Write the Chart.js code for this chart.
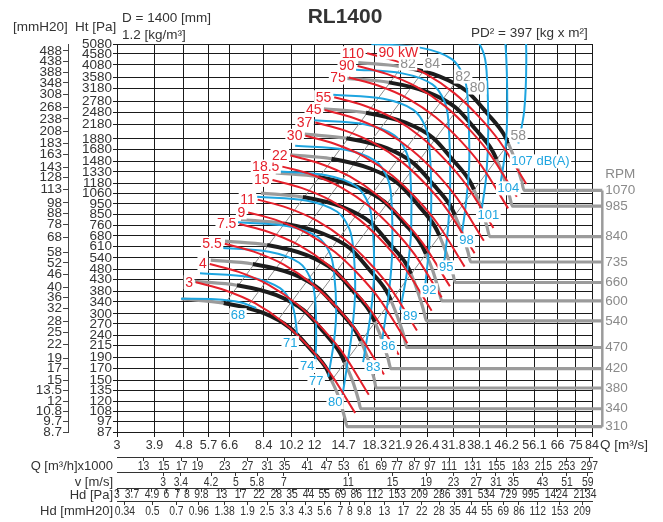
<!DOCTYPE html>
<html><head><meta charset="utf-8">
<script src="https://cdn.jsdelivr.net/npm/chart.js@4.4.1/dist/chart.umd.min.js"></script>
<style>html,body{margin:0;padding:0;background:#fff;}canvas{display:block;}</style>
</head><body>
<canvas id="c" width="663" height="522"></canvas>
<script>
// ---------- axis ticks ----------
const qTicks = [3,3.9,4.8,5.7,6.6,8.4,10.2,12,14.7,18.3,21.9,26.4,31.8,38.1,46.2,56.1,66,75,84];
const paTicks = [5080,4580,4080,3580,3180,2780,2480,2180,1880,1680,1480,1330,1180,1060,950,850,760,680,610,540,480,430,380,340,300,270,240,215,190,170,150,135,120,108,97,87];
const mmTicks = [488,438,388,348,308,268,238,208,183,163,143,128,113,98,88,78,68,58,52,46,40,36,32,28,25,22,19,17,15,13.5,12,10.8,9.7,8.7];
const qhTicks = [13,15,17,19,23,27,31,35,41,47,53,61,69,77,87,97,111,131,155,183,215,253,297];
const vTicks = [3,3.4,4.2,5,5.8,7,11,15,19,23,27,31,35,43,51,59];
const hdPaTicks = [3,3.7,4.9,6,7,8,9.8,13,17,22,28,35,44,55,69,86,112,153,209,286,391,534,729,995,1424,2134];
const hdMmTicks = [0.34,0.5,0.7,0.96,1.38,1.9,2.5,3.3,4.3,5.6,7,8,9.8,13,17,22,28,35,44,55,69,86,112,153,209];

// ---------- fan curves (per RPM) : Q [m3/s], Ht [Pa] ----------
const rpm = [1070,985,840,735,660,600,540,470,420,380,340,310];
const fanQ = [
 [16.3,21.9,28.9,35.0,40.3,45.1,46.7,49.0,51.2,52.2],
 [15.0,20.2,26.6,32.2,37.1,41.5,43.0,45.1,47.1,48.1],
 [12.8,17.2,22.7,27.5,31.6,35.4,36.7,38.5,40.2,41.0],
 [11.2,15.0,19.9,24.0,27.7,31.0,32.1,33.7,35.2,35.9],
 [10.1,13.5,17.8,21.6,24.9,27.8,28.8,30.2,31.6,32.2],
 [9.14,12.3,16.2,19.6,22.6,25.3,26.2,27.5,28.7,29.3],
 [8.23,11.05,14.6,17.7,20.3,22.8,23.6,24.7,25.8,26.3],
 [7.16,9.62,12.7,15.4,17.7,19.8,20.5,21.5,22.5,22.9],
 [6.40,8.60,11.3,13.7,15.8,17.7,18.3,19.2,20.1,20.5],
 [5.79,7.78,10.3,12.4,14.3,16.0,16.6,17.4,18.2,18.5],
 [5.18,6.96,9.18,11.1,12.8,14.3,14.8,15.6,16.3,16.6],
 [4.72,6.34,8.37,10.1,11.7,13.1,13.5,14.2,14.8,15.1]
];
const fanP = [
 [4182,4010,3612,3087,2452,1989,1791,1499,1216,1095],
 [3544,3398,3061,2616,2078,1686,1518,1270,1030,928],
 [2577,2471,2226,1903,1511,1226,1104,924,749,675],
 [1974,1892,1705,1457,1157,939,845,707,574,517],
 [1591,1526,1374,1175,933,757,682,570,463,417],
 [1315,1261,1136,971,771,625,563,471,382,344],
 [1065,1021,920,786,625,507,456,382,310,279],
 [807,774,697,596,473,384,346,289,235,211],
 [644,618,557,476,378,307,276,231,187,169],
 [527,506,456,389,309,251,226,189,153,138],
 [422,405,365,312,248,201,181,151,123,111],
 [351,336,303,259,206,167,150,126,102,92]
];
const fanEndQ = 90.3; // horizontal run-out to the RPM bracket

// ---------- shaft power lines [kW] ----------
const powerKW = ['3','4','5.5','7.5','9','11','15','18.5','22','30','37','45','55','75','90','110'];
const powerQ = [
 [5.22,6.40,7.90,9.62,11.47,13.20,15.95],
 [5.75,7.04,8.69,10.59,12.62,14.53,17.55],
 [6.39,7.83,9.67,11.77,14.04,16.16,19.52],
 [7.08,8.69,10.72,13.06,15.57,17.92,21.65],
 [7.53,9.23,11.39,13.87,16.54,19.04,23.00],
 [8.05,9.87,12.18,14.84,17.69,20.36,24.60],
 [8.93,10.94,13.51,16.45,19.61,22.57,27.27],
 [9.57,11.74,14.49,17.64,21.03,24.20,29.25],
 [10.14,12.44,15.35,18.69,22.29,25.65,30.99],
 [11.25,13.79,17.02,20.73,24.71,28.44,34.36],
 [12.06,14.79,18.26,22.23,26.51,30.50,36.86],
 [12.87,15.78,19.48,23.72,28.29,32.55,39.34],
 [13.77,16.88,20.83,25.37,30.25,34.81,42.06],
 [15.26,18.71,23.10,28.13,33.54,38.60,46.64],
 [16.22,19.89,24.55,29.89,35.64,41.02,49.56],
 [17.34,21.26,26.25,31.96,38.11,43.85,52.99]
];
const powerP = [
 [418,384.5,335.6,275.1,214,166.4,106.1],
 [506,466,407,333,259,202,128.5],
 [626,576,503,412,321,249,159],
 [770,708,618,507,394,306.5,195.4],
 [869,800,698,572,445,346,220.7],
 [994,914,798,654,509,396,252],
 [1222,1124,981,804,626,486.6,310],
 [1405,1293,1128,925,719.5,559.5,356.7],
 [1578,1452,1267,1039,808,628,400.6],
 [1940,1785,1558,1277,993,772,492.5],
 [2232,2053,1792,1469,1143,888.6,566.6],
 [2542,2339,2041,1673,1302,1012,645.3],
 [2907,2674,2334,1913,1488,1157,737.9],
 [3574,3287,2869,2352,1830,1423,907.1],
 [4036,3712,3240,2656,2066,1607,1024],
 [4613,4244,3704,3036,2362,1837,1171]
];
const motorLabelQ = 21.6, motorLabelP = 4643; // "90 kW"

// ---------- noise lines [dB(A)] ----------
const noiseDb = ['68','71','74','77','80','83','86','89','92','95','98','101','104','107 dB(A)'];
const noiseQ = [
 [4.70,5.97,7.11,7.96],
 [5.37,7.63,9.42,10.25,10.54,10.61],
 [6.14,8.72,10.77,11.71,12.05,12.13,12.05],
 [7.01,9.97,12.30,13.39,13.77,13.96,13.76,13.20],
 [8.02,11.39,14.06,15.30,15.74,15.95,15.62,15.08,14.56],
 [9.16,13.02,16.07,17.49,17.98,18.22,17.84,16.87],
 [10.47,14.88,18.37,19.99,20.55,20.68,20.25,19.28],
 [11.97,17.01,21.00,22.84,23.49,23.63,22.98,21.87],
 [13.68,19.44,23.99,26.11,26.85,27.20,26.82,26.07],
 [15.63,22.21,27.42,29.84,30.68,31.07,30.64,29.79],
 [17.87,25.39,31.34,34.10,35.07,35.52,34.78,33.57],
 [20.42,29.01,35.82,38.98,40.08,40.57,40.02,38.64],
 [23.34,33.16,40.94,44.55,45.81,46.36,45.72,44.13],
 [26.67,37.90,46.79,50.91,52.35,52.98,52.22,50.10]
];
const noiseP = [
 [352,350,339,319],
 [459,441,393,329,267,233],
 [600,575,513,429,348,228,181],
 [784,752,670,561,455,312,228,155],
 [1024,982,875,733,594,384.5,253,175.5,125.5],
 [1337,1283,1143,957,776,474,312,181],
 [1747,1675,1493,1250,1014,585,384.5,228],
 [2282,2189,1951,1633,1324,721,474,312],
 [2981,2859,2548,2133,1730,987,616,405],
 [3893,3734,3328,2786,2259,1216,759,516],
 [5086,4877,4347,3639,2951,1499,987,663],
 [6643,6371,5678,4753,3855,2052,1281,870],
 [8677,8322,7417,6208,5035,2530,1664,1154],
 [11334,10870,9688,8109,6577,4271,2530,1791]
];
const noiseLabelQ = [7.01,10.11,11.39,12.13,13.86,18.10,20.11,23.47,26.8,30.2,34.8,40.6,46.7,58.5];
const noiseLabelP = [296,220.8,173.6,148.3,119.1,171.8,214,293,384.5,489,649,843,1119,1484];

// ---------- efficiency lines [%] ----------
const effLabels = ['82','84','82','80','58'];
const effQ = [[21.9,6.34],[26.07,7.55],[32.2,9.33],[35.5,10.28],[47.3,13.70]];
const effP = [[3926,329.4],[3926,329.4],[3392,284.6],[3023,253.6],[1829,153.5]];
const effLabelQ = [23.1,27.4,34.0,37.6,50.1];
const effLabelP = [4138,4138,3611,3219,1948];

// ---------- styles ----------
const RED = '#e5202b', BLUE = '#1ea5e0', BLACK = '#1c1c1c', GRAY = '#9b9b9b', DIAG = '#8c8c8c', TXT = '#333333';
const FONT = "'Liberation Sans', Arial, Helvetica, sans-serif";

const datasets = [];
effQ.forEach((qs, i) => datasets.push({
  data: qs.map((q, j) => ({x: q, y: effP[i][j]})),
  showLine: true, pointRadius: 0, borderColor: DIAG, borderWidth: 1, order: 6
}));
rpm.forEach((n, i) => {
  const pts = fanQ[i].map((q, j) => ({x: q, y: fanP[i][j]}));
  pts.push({x: fanEndQ, y: fanP[i][fanP[i].length - 1]});
  datasets.push({
    data: pts, showLine: true, pointRadius: 0, clip: false,
    cubicInterpolationMode: 'monotone', borderColor: BLACK, borderWidth: 4, order: 4,
    segment: {
      borderColor: c => (c.p0DataIndex === 0 || c.p0DataIndex >= 6) ? GRAY : BLACK,
      borderWidth: c => (c.p0DataIndex === 0 || c.p0DataIndex >= 6) ? 3.2 : 4
    }
  });
});
datasets.push({
  data: [{x: fanEndQ, y: fanP[0][fanP[0].length - 1]}, {x: fanEndQ, y: fanP[fanP.length - 1][fanP[0].length - 1]}],
  showLine: true, pointRadius: 0, clip: false, borderColor: GRAY, borderWidth: 2.5, order: 4
});
noiseQ.forEach((qs, i) => datasets.push({
  data: qs.map((q, j) => ({x: q, y: noiseP[i][j]})),
  showLine: true, pointRadius: 0, borderColor: BLUE, borderWidth: 2, tension: 0.35,
  capBezierPoints: false, order: 3
}));
powerQ.forEach((qs, i) => datasets.push({
  data: qs.map((q, j) => ({x: q, y: powerP[i][j]})),
  showLine: true, pointRadius: 0, borderColor: RED, borderWidth: 2,
  cubicInterpolationMode: 'monotone', order: 2
}));

function boxText(ctx, t, x, y, color, font, align) {
  ctx.font = font;
  const w = ctx.measureText(t).width;
  const left = align === 'right' ? x - w : (align === 'left' ? x : x - w / 2);
  ctx.fillStyle = '#fff';
  ctx.fillRect(left - 1.5, y - 7, w + 3, 14);
  ctx.fillStyle = color; ctx.textAlign = 'left'; ctx.textBaseline = 'middle';
  ctx.fillText(t, left, y + 0.5);
}
// condensed label drawn at a scale position
function narrowText(ctx, t, x, y, sx) {
  ctx.save(); ctx.translate(x, y); ctx.scale(sx, 1);
  ctx.fillText(t, 0, 0); ctx.restore();
}

const rowDefs = [
  { id: 'xh', ticks: qhTicks, dy: 9 },
  { id: 'xv', ticks: vTicks, dy: 10 },
  { id: 'xhp', ticks: hdPaTicks, dy: 6 },
  { id: 'xhm', ticks: hdMmTicks, dy: 10 }
];

const labelPlugin = {
  id: 'labels',
  afterDatasetsDraw(chart) {
    const ctx = chart.ctx, xs = chart.scales.x, ys = chart.scales.y;
    ctx.save();
    effLabels.forEach((t, i) => boxText(ctx, t, xs.getPixelForValue(effLabelQ[i]), ys.getPixelForValue(effLabelP[i]), '#8f8f8f', '14px ' + FONT, 'center'));
    noiseDb.forEach((t, i) => boxText(ctx, t, xs.getPixelForValue(noiseLabelQ[i]), ys.getPixelForValue(noiseLabelP[i]), BLUE, '13px ' + FONT, 'center'));
    powerKW.forEach((t, i) => boxText(ctx, t, xs.getPixelForValue(powerQ[i][0]) - 3, ys.getPixelForValue(powerP[i][0]), RED, '14px ' + FONT, 'right'));
    boxText(ctx, '90 kW', xs.getPixelForValue(motorLabelQ), ys.getPixelForValue(motorLabelP), RED, '14px ' + FONT, 'center');
    // RPM labels
    ctx.fillStyle = '#8a8a8a'; ctx.font = '13.5px ' + FONT; ctx.textAlign = 'left'; ctx.textBaseline = 'middle';
    const bx = xs.getPixelForValue(fanEndQ) + 3;
    rpm.forEach((n, i) => ctx.fillText(String(n), bx, ys.getPixelForValue(fanP[i][fanP[i].length - 1])));
    ctx.fillText('RPM', bx, ys.getPixelForValue(fanP[0][fanP[0].length - 1]) - 16);
    ctx.restore();
  },
  afterDraw(chart) {
    const ctx = chart.ctx;
    ctx.save();
    ctx.fillStyle = TXT; ctx.textBaseline = 'middle';
    // bottom scale rows (condensed labels placed by each scale)
    ctx.font = '13px ' + FONT; ctx.textAlign = 'center';
    rowDefs.forEach(r => {
      const s = chart.scales[r.id];
      r.ticks.forEach(v => narrowText(ctx, String(v), s.getPixelForValue(v), s.top + r.dy, 0.8));
    });
    ctx.font = '13.5px ' + FONT; ctx.textAlign = 'left';
    ctx.fillText('[mmH20]', 13, 27);
    ctx.fillText('Ht [Pa]', 75, 27);
    ctx.fillText('D = 1400 [mm]', 122, 18);
    ctx.fillText('1.2 [kg/m\u00B3]', 122, 35);
    ctx.fillText('PD\u00B2 = 397 [kg x m\u00B2]', 471, 33);
    ctx.fillText('Q [m\u00B3/s]', 600, 445);
    ctx.textAlign = 'right'; ctx.font = '13px ' + FONT;
    ctx.fillText('Q [m\u00B3/h]x1000', 113, 466);
    ctx.fillText('v [m/s]', 113, 482);
    ctx.fillText('Hd [Pa]', 113, 495);
    ctx.fillText('Hd [mmH20]', 113, 511);
    ctx.textAlign = 'center'; ctx.font = 'bold 21px ' + FONT;
    ctx.fillText('RL1400', 345, 17);
    ctx.restore();
  }
};

function logAxis(min, max, ticks, extra) {
  return Object.assign({
    type: 'logarithmic', min: min, max: max, bounds: 'data',
    afterBuildTicks: s => { s.ticks = ticks.map(v => ({value: v})); },
    ticks: { autoSkip: false, maxRotation: 0, minRotation: 0, color: TXT, font: {family: FONT, size: 13}, callback: v => String(v) }
  }, extra);
}
function rowAxis(min, max, ticks, weight, h, tl) {
  return logAxis(min, max, ticks, {
    position: 'bottom', weight: weight,
    afterFit: s => { s.height = h; },
    grid: { drawOnChartArea: false, tickLength: tl, color: '#333', lineWidth: 1 },
    border: { display: true, color: '#333' },
    ticks: { display: false, autoSkip: false, callback: v => String(v) }
  });
}

new Chart(document.getElementById('c'), {
  type: 'scatter',
  data: { datasets: datasets },
  options: {
    responsive: false, animation: false, devicePixelRatio: 1,
    layout: { padding: { left: 0, right: 71, top: 44, bottom: 4 } },
    plugins: { legend: { display: false }, tooltip: { enabled: false } },
    elements: { point: { radius: 0 } },
    scales: {
      x: logAxis(3, 84, qTicks, {
        position: 'bottom', weight: 0,
        afterFit: s => { s.height = 25; },
        grid: { color: '#1a1a1a', lineWidth: 1, tickLength: 5 },
        border: { display: true, color: '#1a1a1a' },
        ticks: { autoSkip: false, maxRotation: 0, minRotation: 0, padding: 1, color: TXT, font: {family: FONT, size: 12.5}, callback: v => String(v) }
      }),
      xh: rowAxis(10.8, 302.4, qhTicks, 1, 15, 4),
      xv: rowAxis(2.172, 60.8, vTicks, 2, 16, 4),
      xhp: rowAxis(3, 2352, hdPaTicks, 3, 13, 4),
      xhm: rowAxis(0.304, 240, hdMmTicks, 4, 17, 4),
      y: logAxis(87, 5080, paTicks, {
        position: 'left', weight: 0,
        afterFit: s => { s.width = 49; },
        grid: { color: '#1a1a1a', lineWidth: 1, tickLength: 4 },
        border: { display: true, color: '#1a1a1a' },
        ticks: { autoSkip: false, padding: 1, color: TXT, font: {family: FONT, size: 13.5}, callback: v => String(v) }
      }),
      ymm: logAxis(8.7, 525, mmTicks, {
        position: 'left', weight: 1,
        afterFit: s => { s.width = 68; },
        grid: { drawOnChartArea: false, tickLength: 5, color: '#444' },
        border: { display: true, color: '#444' },
        ticks: { autoSkip: false, padding: 1, color: TXT, font: {family: FONT, size: 13.5}, callback: v => String(v) }
      })
    }
  },
  plugins: [labelPlugin]
});
</script>
</body></html>
